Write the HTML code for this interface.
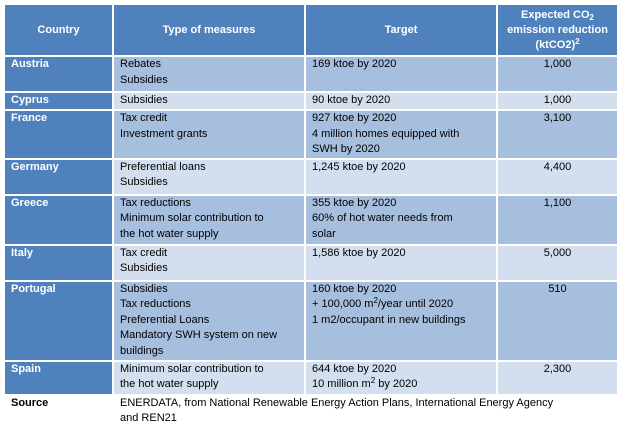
<!DOCTYPE html>
<html><head><style>
body{margin:0;background:#fff;width:620px;height:429px;overflow:hidden;font-family:"Liberation Sans",sans-serif;font-size:11px;}
table{position:absolute;left:3px;top:3px;border-collapse:collapse;table-layout:fixed;}
td{border:2px solid #fff;padding:0 0 0 6px;vertical-align:top;line-height:15.5px;color:#000;overflow:hidden;}
tr.h td{background:#4F81BD;color:#fff;font-weight:bold;text-align:center;vertical-align:middle;padding:0;line-height:15px;}
td.c{background:#4F81BD;color:#fff;font-weight:bold;}
tr.d td.x{background:#A7BFDE;}
tr.l td.x{background:#D3DFEE;}
td.n{text-align:center;padding-left:0;}
tr.s td{background:#fff;font-weight:normal;}
sup,sub{font-size:8px;line-height:0;vertical-align:baseline;position:relative;}
sup{top:-4px;} sub{top:2px;}
</style></head><body>
<table>
<colgroup><col style="width:109px"><col style="width:192px"><col style="width:192px"><col style="width:121px"></colgroup>
<tr class="h" style="height:52px"><td>Country</td><td>Type of measures</td><td>Target</td><td>Expected CO<sub>2</sub><br>emission reduction<br>(ktCO2)<sup>2</sup></td></tr>
<tr class="d" style="height:36px"><td class="c">Austria</td><td class="x">Rebates<br>Subsidies</td><td class="x">169 ktoe by 2020</td><td class="x n">1,000</td></tr>
<tr class="l" style="height:18px"><td class="c">Cyprus</td><td class="x">Subsidies</td><td class="x">90 ktoe by 2020</td><td class="x n">1,000</td></tr>
<tr class="d" style="height:48px"><td class="c">France</td><td class="x">Tax credit<br>Investment grants</td><td class="x">927 ktoe by 2020<br>4 million homes equipped with<br>SWH by 2020</td><td class="x n">3,100</td></tr>
<tr class="l" style="height:36px"><td class="c">Germany</td><td class="x">Preferential loans<br>Subsidies</td><td class="x">1,245 ktoe by 2020</td><td class="x n">4,400</td></tr>
<tr class="d" style="height:50px"><td class="c">Greece</td><td class="x">Tax reductions<br>Minimum solar contribution to<br>the hot water supply</td><td class="x">355 ktoe by 2020<br>60% of hot water needs from<br>solar</td><td class="x n">1,100</td></tr>
<tr class="l" style="height:36px"><td class="c">Italy</td><td class="x">Tax credit<br>Subsidies</td><td class="x">1,586 ktoe by 2020</td><td class="x n">5,000</td></tr>
<tr class="d" style="height:80px"><td class="c">Portugal</td><td class="x">Subsidies<br>Tax reductions<br>Preferential Loans<br>Mandatory SWH system on new<br>buildings</td><td class="x">160 ktoe by 2020<br>+ 100,000 m<sup>2</sup>/year until 2020<br>1 m2/occupant in new buildings</td><td class="x n">510</td></tr>
<tr class="l" style="height:34px"><td class="c">Spain</td><td class="x">Minimum solar contribution to<br>the hot water supply</td><td class="x">644 ktoe by 2020<br>10 million m<sup>2</sup> by 2020</td><td class="x n">2,300</td></tr>
<tr class="s" style="height:34px"><td style="font-weight:bold">Source</td><td colspan="3">ENERDATA, from National Renewable Energy Action Plans, International Energy Agency<br>and REN21</td></tr>
</table>
</body></html>
